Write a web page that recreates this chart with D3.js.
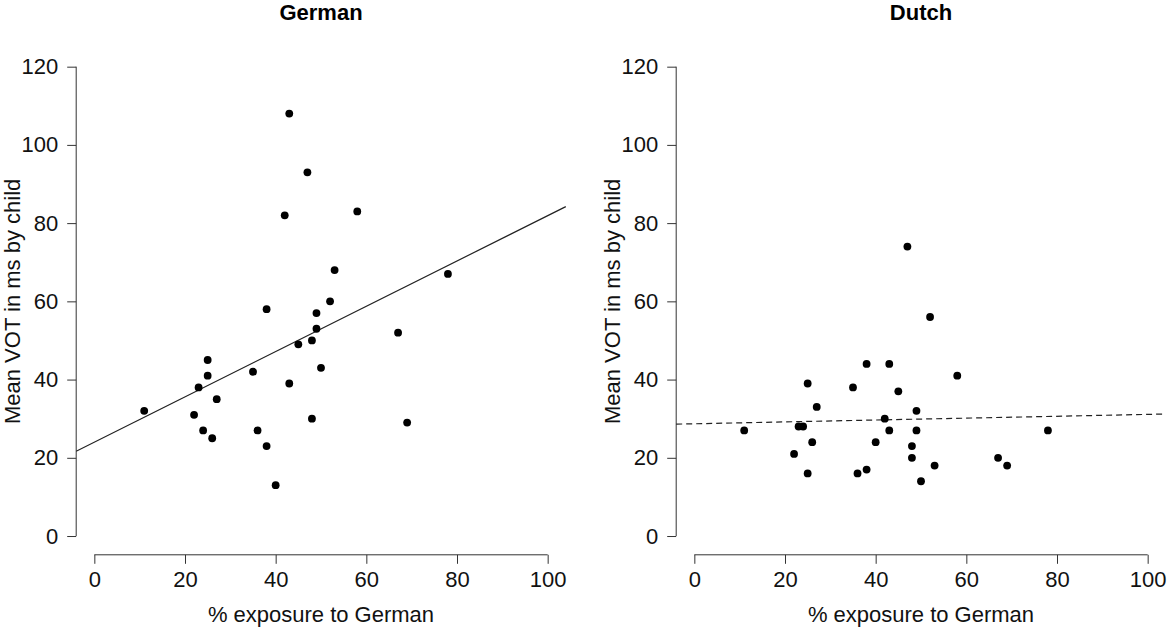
<!DOCTYPE html>
<html>
<head>
<meta charset="utf-8">
<script src="https://cdn.jsdelivr.net/npm/d3@7"></script>
<style>
  body { margin: 0; background: #fff; }
  text { font-family: "Liberation Sans", Arial, sans-serif; }
</style>
</head>
<body>
<div id="chart"></div>
<script>
const W = 1169;
const H = 630;

// % exposure to German, one entry per child
const exposure = [11, 22, 23, 24, 25, 25, 26, 27, 35, 36, 38, 38, 40, 42, 43, 43, 45, 47, 48, 48, 49, 49, 50, 52, 53, 58, 67, 69, 78];
const germanVOT = [32, 31, 38, 27, 45, 41, 25, 35, 42, 27, 58, 23, 13, 82, 108, 39, 49, 93, 50, 30, 57, 53, 43, 60, 68, 83, 52, 29, 67];
// pairing of dutch values to children is unknown, so they keep their own x list
const dutchX = [11, 22, 23, 24, 25, 25, 26, 27, 35, 36, 38, 38, 40, 42, 43, 43, 45, 47, 48, 48, 49, 49, 50, 52, 53, 58, 67, 69, 78];
const dutchVOT = [27, 21, 28, 28, 39, 16, 24, 33, 38, 16, 44, 17, 24, 30, 44, 27, 37, 74, 23, 20, 32, 27, 14, 56, 18, 41, 20, 18, 27];

// fitted lines: [intercept, slope]
const germanFit = [24.0, 0.579];
const dutchFit = [28.7, 0.024];

const xTicks = [0, 20, 40, 60, 80, 100];
const yTicks = [0, 20, 40, 60, 80, 100, 120];

const panels = [
  { title: 'German', xs: exposure, ys: germanVOT, fit: germanFit, dash: null, dx: 0 },
  { title: 'Dutch', xs: dutchX, ys: dutchVOT, fit: dutchFit, dash: '6,4', dx: 600 },
];

const FS = '22px';

const svg = d3.select('#chart').append('svg')
  .attr('width', W)
  .attr('height', H);

// R style plot region: data range padded by 4%
const x = d3.scaleLinear().domain([-4, 104]).range([76.2, 565.8]);
const y = d3.scaleLinear().domain([-4.8, 124.8]).range([554.8, 47.9]);

panels.forEach(p => {
  const g = svg.append('g').attr('transform', `translate(${p.dx},0)`);

  g.append('text')
    .attr('x', (x.range()[0] + x.range()[1]) / 2)
    .attr('y', 20)
    .attr('text-anchor', 'middle')
    .style('font-size', FS)
    .style('font-weight', 'bold')
    .text(p.title);

  // y axis
  const ya = g.append('g')
    .attr('transform', `translate(${x.range()[0]},0)`)
    .call(d3.axisLeft(y).tickValues(yTicks).tickSize(9).tickPadding(9).tickSizeOuter(0));
  ya.select('.domain').remove();
  ya.append('line')
    .attr('y1', y(0)).attr('y2', y(120))
    .attr('stroke', '#333');
  ya.selectAll('.tick line').attr('stroke', '#333');
  ya.selectAll('.tick text')
    .attr('fill', '#111')
    .style('font-size', FS)
    .style('font-family', '"Liberation Sans", Arial, sans-serif');

  // x axis
  const xa = g.append('g')
    .attr('transform', `translate(0,${y.range()[0]})`)
    .call(d3.axisBottom(x).tickValues(xTicks).tickSize(9).tickPadding(8).tickSizeOuter(0));
  xa.select('.domain').remove();
  xa.append('line')
    .attr('x1', x(0)).attr('x2', x(100))
    .attr('stroke', '#333');
  xa.selectAll('.tick line').attr('stroke', '#333');
  xa.selectAll('.tick text')
    .attr('fill', '#111')
    .style('font-size', FS)
    .style('font-family', '"Liberation Sans", Arial, sans-serif');

  g.append('text')
    .attr('x', (x.range()[0] + x.range()[1]) / 2)
    .attr('y', 622)
    .attr('text-anchor', 'middle')
    .style('font-size', FS)
    .attr('fill', '#111')
    .text('% exposure to German');

  g.append('text')
    .attr('transform', `translate(20,${(y.range()[0] + y.range()[1]) / 2}) rotate(-90)`)
    .attr('text-anchor', 'middle')
    .style('font-size', FS)
    .attr('fill', '#111')
    .text('Mean VOT in ms by child');

  // fit line across the whole plot region
  const [a, b] = p.fit;
  const x0 = x.domain()[0];
  const x1 = x.domain()[1];
  g.append('line')
    .attr('x1', x(x0)).attr('y1', y(a + b * x0))
    .attr('x2', x(x1)).attr('y2', y(a + b * x1))
    .attr('stroke', '#222')
    .attr('stroke-width', 1.2)
    .attr('stroke-dasharray', p.dash);

  g.selectAll('circle')
    .data(p.xs.map((v, i) => [v, p.ys[i]]))
    .enter().append('circle')
    .attr('cx', d => x(d[0]))
    .attr('cy', d => y(d[1]))
    .attr('r', 3.9)
    .attr('fill', '#000');
});
</script>
</body>
</html>
